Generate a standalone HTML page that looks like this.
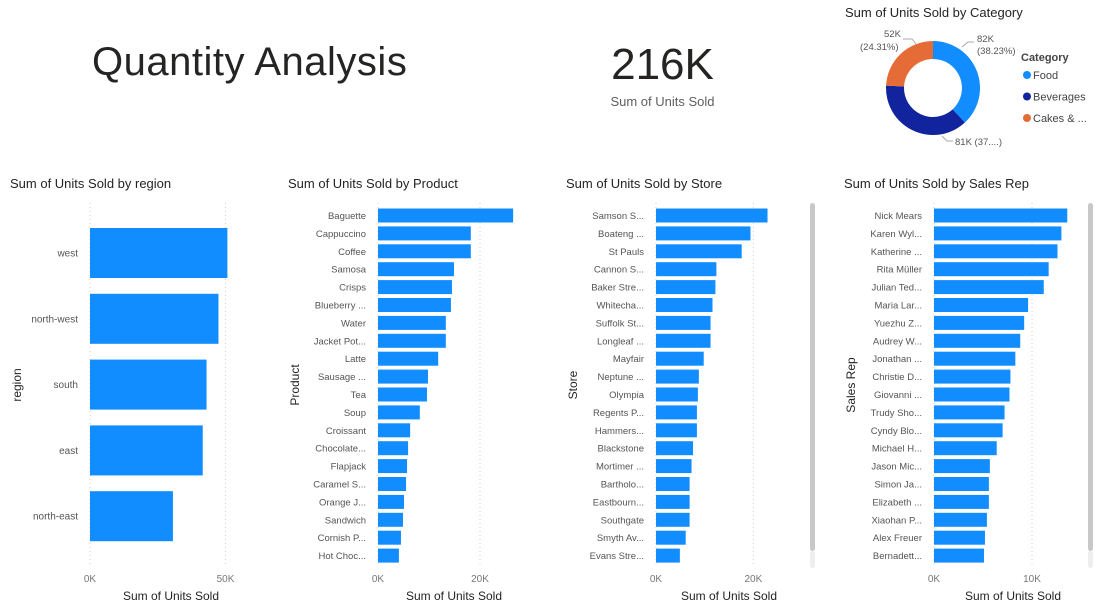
<!DOCTYPE html>
<html><head><meta charset="utf-8"><style>
body{margin:0;width:1095px;height:615px;background:#fff;font-family:"Liberation Sans",sans-serif;overflow:hidden;position:relative}
.abs{position:absolute}
</style></head><body>
<div class="abs" style="left:92px;top:40px;font-size:40px;color:#252423;font-weight:300;letter-spacing:0.5px">Quantity Analysis</div>
<div class="abs" style="left:560px;width:205px;text-align:center;top:40px;font-size:44px;color:#252423">216K</div>
<div class="abs" style="left:560px;width:205px;text-align:center;top:94px;font-size:13px;color:#605e5c">Sum of Units Sold</div>
<svg id="main" width="1095" height="615" class="abs" style="left:0;top:0"></svg>
<script>
const NS="http://www.w3.org/2000/svg";
const svg=document.getElementById('main');
function mk(tag,attrs,parent){const e=document.createElementNS(NS,tag);for(const k in attrs)e.setAttribute(k,attrs[k]);(parent||svg).appendChild(e);return e;}

// Donut data
const catNames=["Food","Beverages","Cakes & ..."];
const catValues=[82,81,52];
const catColors=["#118DFF","#12239E","#E66C37"];
const catLabels=["82K\n(38.23%)","81K (37....)","52K\n(24.31%)"];

// Region
const regionCats=["west","north-west","south","east","north-east"];
const regionVals=[50.7,47.4,43.0,41.6,30.6];
const regionTicks=[0,50];
// Product
const productCats=["Baguette","Cappuccino","Coffee","Samosa","Crisps","Blueberry ...","Water","Jacket Pot...","Latte","Sausage ...","Tea","Soup","Croissant","Chocolate...","Flapjack","Caramel S...","Orange J...","Sandwich","Cornish P...","Hot Choc..."];
const productVals=[26.5,18.2,18.2,14.9,14.5,14.3,13.3,13.3,11.8,9.8,9.6,8.2,6.3,5.9,5.7,5.5,5.1,4.9,4.5,4.1];
const productTicks=[0,20];
// Store
const storeCats=["Samson S...","Boateng ...","St Pauls","Cannon S...","Baker Stre...","Whitecha...","Suffolk St...","Longleaf ...","Mayfair","Neptune ...","Olympia","Regents P...","Hammers...","Blackstone","Mortimer ...","Bartholo...","Eastbourn...","Southgate","Smyth Av...","Evans Stre..."];
const storeVals=[22.9,19.4,17.6,12.4,12.2,11.6,11.2,11.2,9.8,8.8,8.6,8.4,8.4,7.6,7.3,6.9,6.9,6.9,6.1,4.9];
const storeTicks=[0,20];
// Sales rep
const repCats=["Nick Mears","Karen Wyl...","Katherine ...","Rita Müller","Julian Ted...","Maria Lar...","Yuezhu Z...","Audrey W...","Jonathan ...","Christie D...","Giovanni ...","Trudy Sho...","Cyndy Blo...","Michael H...","Jason Mic...","Simon Ja...","Elizabeth ...","Xiaohan P...","Alex Freuer","Bernadett..."];
const repVals=[13.6,13.0,12.6,11.7,11.2,9.6,9.2,8.8,8.3,7.8,7.7,7.2,7.0,6.4,5.7,5.6,5.6,5.4,5.2,5.1];
const repTicks=[0,10];

function txt(x,y,s,attrs){const t=mk('text',Object.assign({x:x,y:y,'font-family':'Liberation Sans, sans-serif'},attrs));t.textContent=s;return t;}

function barChart(o){
  const g=mk('g',{});
  
  
  const t=txt(o.tx,188,o.title,{'font-size':13,fill:'#252423'},g);
  
  
  const sx=v=>o.x0+v*o.pxPerK;
  const sy=i=>o.y0+i*o.step;
  o.ticks.forEach(tk=>{
    mk('line',{x1:sx(tk),x2:sx(tk),y1:203,y2:565,stroke:'#d0d0d0','stroke-dasharray':'1,3'},g);
    const l=txt(sx(tk),582,tk+'K',{'font-size':10,fill:'#777','text-anchor':'middle'},g);
    
    
  });
  o.cats.forEach((c,i)=>{
    const r=mk('rect',{x:o.x0,y:sy(i),width:sx(o.vals[i])-o.x0,height:o.bh,fill:'#118DFF'},g);
    
    
    const l=txt(o.x0-12,sy(i)+o.bh/2+3.5,c,{'font-size':o.fs,fill:'#555','text-anchor':'end'},g);
    
    
  });
  const xt=txt(o.xtx,600,'Sum of Units Sold',{'font-size':12,fill:'#252423','text-anchor':'middle'},g);
  
  
  const yt=txt(0,0,o.ytitle,{'font-size':12,fill:'#252423','text-anchor':'middle',transform:`translate(${o.ytx},${o.yty}) rotate(-90)`},g);
  
  
  if(o.scroll){const s=mk('rect',{x:o.scroll,y:203,width:5,height:348,rx:2.5,fill:'#c8c8c8'},g);
    
    mk('rect',{x:o.scroll,y:551,width:5,height:17,rx:2.5,fill:'#eee'},g);}
}
barChart({name:'region-chart',title:'Sum of Units Sold by region',tx:10,cats:regionCats,vals:regionVals,ticks:regionTicks,x0:90,pxPerK:2.71,y0:228,step:65.8,bh:50,fs:10,xtx:171,ytitle:'region',ytx:21,yty:385});
barChart({name:'product-chart',title:'Sum of Units Sold by Product',tx:288,cats:productCats,vals:productVals,ticks:productTicks,x0:378,pxPerK:5.1,y0:208.5,step:17.9,bh:14,fs:9.5,xtx:454,ytitle:'Product',ytx:299,yty:385});
barChart({name:'store-chart',title:'Sum of Units Sold by Store',tx:566,cats:storeCats,vals:storeVals,ticks:storeTicks,x0:656,pxPerK:4.87,y0:208.5,step:17.9,bh:14,fs:9.5,xtx:729,ytitle:'Store',ytx:577,yty:385,scroll:810});
barChart({name:'salesrep-chart',title:'Sum of Units Sold by Sales Rep',tx:844,cats:repCats,vals:repVals,ticks:repTicks,x0:934,pxPerK:9.8,y0:208.5,step:17.9,bh:14,fs:9.5,xtx:1013,ytitle:'Sales Rep',ytx:855,yty:385,scroll:1088});

// Donut
const dg=mk('g',{});


const dt=txt(845,17,'Sum of Units Sold by Category',{'font-size':13,fill:'#252423'},dg);


const cx=933,cy=88,R=47,r=29;
const total=catValues.reduce((a,b)=>a+b,0);
let a0=0;
catValues.forEach((v,i)=>{
  const a1=a0+v/total*2*Math.PI;
  const p=(a,rad)=>[cx+rad*Math.sin(a),cy-rad*Math.cos(a)];
  const [x1,y1]=p(a0,R),[x2,y2]=p(a1,R),[x3,y3]=p(a1,r),[x4,y4]=p(a0,r);
  const lg=(a1-a0)>Math.PI?1:0;
  const s=mk('path',{d:`M${x1},${y1}A${R},${R} 0 ${lg} 1 ${x2},${y2}L${x3},${y3}A${r},${r} 0 ${lg} 0 ${x4},${y4}Z`,fill:catColors[i]},dg);
  
  
  a0=a1;
});
const lblStyle={'font-size':9.5,fill:'#555'};
txt(977,42,'82K',lblStyle,dg);txt(977,54,'(38.23%)',lblStyle,dg);
mk('polyline',{points:'962,47 968,42 974,42',fill:'none',stroke:'#aaa'},dg);
txt(884,37,'52K',lblStyle,dg);txt(860,50,'(24.31%)',lblStyle,dg);
mk('polyline',{points:'903,39 912,39 916,44',fill:'none',stroke:'#aaa'},dg);
txt(955,145,'81K (37....)',lblStyle,dg);
mk('polyline',{points:'942,136 947,141 953,141',fill:'none',stroke:'#aaa'},dg);
const lt=txt(1021,61,'Category',{'font-size':11,'font-weight':'bold',fill:'#444'},dg);


catNames.forEach((n,i)=>{
  const y=75+i*21.5;
  const c=mk('circle',{cx:1027,cy:y,r:4,fill:catColors[i]},dg);
  
  
  const l=txt(1033,y+4,n,{'font-size':11,fill:'#444'},dg);
  
  
});
</script>
</body></html>
